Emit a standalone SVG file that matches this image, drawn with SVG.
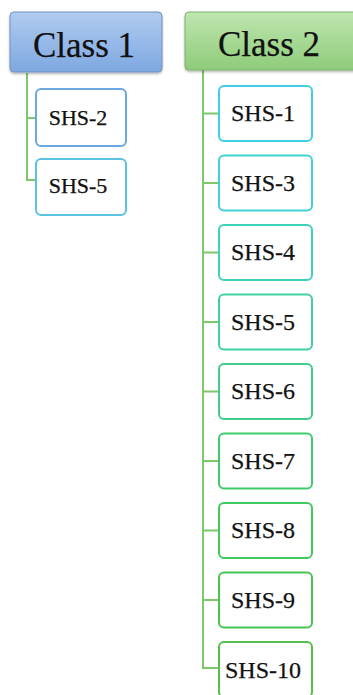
<svg xmlns="http://www.w3.org/2000/svg" width="353" height="695" viewBox="0 0 353 695">
<defs>
<linearGradient id="gBlue" x1="0" y1="0" x2="0" y2="1">
<stop offset="0" stop-color="#b0cbef"/>
<stop offset="1" stop-color="#7ea8e1"/>
</linearGradient>
<linearGradient id="gGreen" x1="0" y1="0" x2="0" y2="1">
<stop offset="0" stop-color="#bfe6b0"/>
<stop offset="1" stop-color="#8ecc7a"/>
</linearGradient>
<filter id="sh" x="-10%" y="-10%" width="120%" height="130%">
<feDropShadow dx="0" dy="1.5" stdDeviation="1.2" flood-color="#000" flood-opacity="0.3"/>
</filter>
</defs>
<style>
text{font-family:'Liberation Serif','Times New Roman',serif;stroke:#111;stroke-width:0.25}
.head{font-size:35px;fill:#111;text-anchor:middle}
.lbl{fill:#111;text-anchor:middle}
.s1{font-size:22px}
.s2{font-size:24px}
.box{fill:#fff;stroke-width:2}
.conn{stroke:#7cc86a;stroke-width:2;fill:none}
</style>
<rect width="353" height="695" fill="#fff"/>
<g id="connectors">
<path class="conn" d="M27 73 V180 H36 M27 118 H36"/>
<path class="conn" d="M203 70 V668 H219 M203 113.5 H219 M203 183 H219 M203 252.5 H219 M203 322 H219 M203 391.5 H219 M203 461 H219 M203 530.5 H219 M203 600 H219"/>
</g>
<g id="class1">
<rect x="10" y="12" width="152" height="60" rx="4" fill="url(#gBlue)" stroke="#7391c0" stroke-width="1" filter="url(#sh)"/>
<text class="head" x="84" y="57">Class 1</text>
</g>
<g id="class2">
<rect x="185" y="12" width="175" height="58" rx="4" fill="url(#gGreen)" stroke="#7fb06c" stroke-width="1" filter="url(#sh)"/>
<text class="head" x="269" y="56">Class 2</text>
</g>
<g id="c1-shs2">
<rect class="box" x="36" y="89" width="90" height="57" rx="5" stroke="#6aa8e0"/>
<text class="lbl s1" x="78" y="125">SHS-2</text>
</g>
<g id="c1-shs5">
<rect class="box" x="36" y="159" width="90" height="56" rx="5" stroke="#5bc2e2"/>
<text class="lbl s1" x="78" y="193">SHS-5</text>
</g>
<g id="c2-shs1">
<rect class="box" x="219" y="86" width="93" height="55" rx="5" stroke="#3ecfe0"/>
<text class="lbl s2" x="263" y="121">SHS-1</text>
</g>
<g id="c2-shs3">
<rect class="box" x="219" y="155.5" width="93" height="55" rx="5" stroke="#3ed1d6"/>
<text class="lbl s2" x="263" y="190.5">SHS-3</text>
</g>
<g id="c2-shs4">
<rect class="box" x="219" y="225" width="93" height="55" rx="5" stroke="#3cd3bc"/>
<text class="lbl s2" x="263" y="260">SHS-4</text>
</g>
<g id="c2-shs5">
<rect class="box" x="219" y="294.5" width="93" height="55" rx="5" stroke="#3fd1a4"/>
<text class="lbl s2" x="263" y="329.5">SHS-5</text>
</g>
<g id="c2-shs6">
<rect class="box" x="219" y="364" width="93" height="55" rx="5" stroke="#40cd8e"/>
<text class="lbl s2" x="263" y="399">SHS-6</text>
</g>
<g id="c2-shs7">
<rect class="box" x="219" y="433.5" width="93" height="55" rx="5" stroke="#3ecc6c"/>
<text class="lbl s2" x="263" y="468.5">SHS-7</text>
</g>
<g id="c2-shs8">
<rect class="box" x="219" y="503" width="93" height="55" rx="5" stroke="#40c95c"/>
<text class="lbl s2" x="263" y="538">SHS-8</text>
</g>
<g id="c2-shs9">
<rect class="box" x="219" y="572.5" width="93" height="55" rx="5" stroke="#46c552"/>
<text class="lbl s2" x="263" y="607.5">SHS-9</text>
</g>
<g id="c2-shs10">
<rect class="box" x="219" y="642" width="93" height="55" rx="5" stroke="#56c14a"/>
<text class="lbl s2" x="263" y="678">SHS-10</text>
</g>
</svg>
